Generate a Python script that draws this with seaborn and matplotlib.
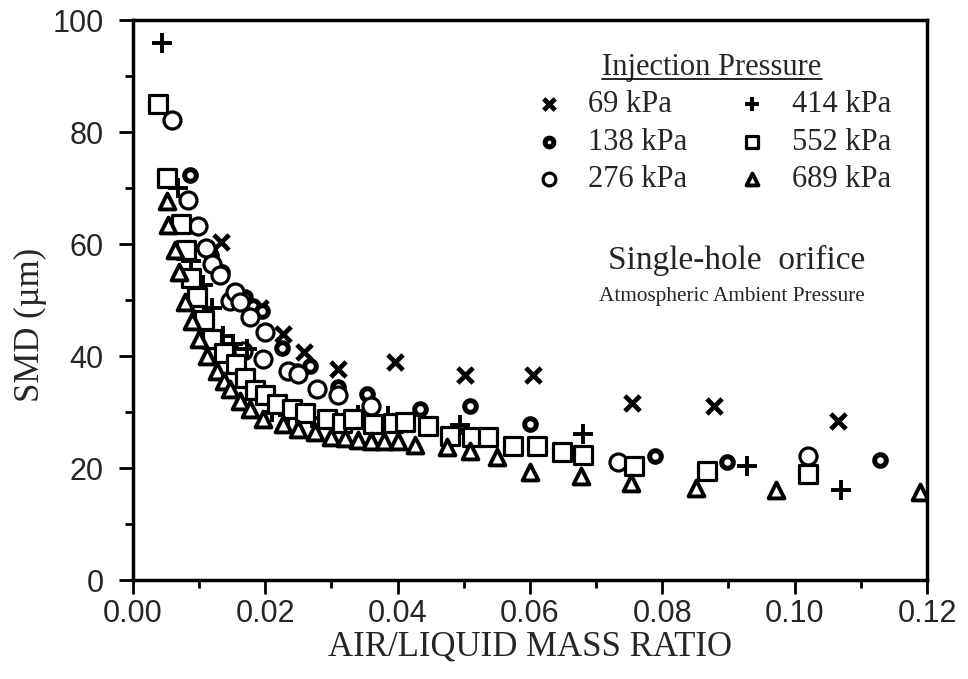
import matplotlib
matplotlib.use("Agg")
import matplotlib.pyplot as plt
import seaborn as sns
import pandas as pd
from matplotlib.ticker import MultipleLocator, FormatStrFormatter
from matplotlib.lines import Line2D

# ---- data ----
labels = ["69 kPa", "138 kPa", "276 kPa", "414 kPa", "552 kPa", "689 kPa"]

x69 = [0.0133, 0.0192, 0.0227, 0.0258, 0.0310, 0.0396, 0.0502, 0.0605, 0.0754, 0.0878, 0.1065]
y69 = [60.3, 48.5, 44.0, 40.8, 37.7, 39.0, 36.6, 36.6, 31.6, 31.1, 28.4]

x138 = [0.0086, 0.0118, 0.0135, 0.0170, 0.0181, 0.0195, 0.0225, 0.0248, 0.0268, 0.0310,
        0.0354, 0.0434, 0.0509, 0.0600, 0.0789, 0.0898, 0.1129]
y138 = [72.4, 58.0, 55.0, 50.5, 49.0, 48.0, 41.5, 37.3, 38.2, 34.5,
        33.2, 30.5, 31.1, 27.8, 22.1, 21.0, 21.4]

x276 = [0.0059, 0.0083, 0.0098, 0.0110, 0.0119, 0.0131, 0.0147, 0.0154, 0.0162, 0.0177,
        0.0166, 0.0200, 0.0196, 0.0234, 0.0249, 0.0278, 0.0310, 0.0360, 0.0733, 0.1020]
y276 = [82.2, 67.9, 63.2, 59.2, 56.5, 54.4, 49.9, 51.5, 49.7, 47.0,
        40.9, 44.3, 39.5, 37.3, 36.8, 34.1, 33.0, 31.0, 21.0, 22.1]

x414 = [0.0044, 0.0068, 0.0088, 0.0106, 0.0120, 0.0136, 0.0151, 0.0172, 0.0190, 0.0210,
        0.0235, 0.0270, 0.0300, 0.0340, 0.0385, 0.0494, 0.0680, 0.0928, 0.1070]
y414 = [95.9, 70.0, 57.0, 52.6, 48.5, 43.5, 42.2, 41.3, 33.0, 30.0,
        29.5, 29.0, 28.5, 29.5, 29.3, 27.7, 26.0, 20.3, 16.0]

x552 = [0.0038, 0.0051, 0.0072, 0.0080, 0.0088, 0.0097, 0.0108, 0.0120, 0.0138, 0.0155,
        0.0170, 0.0185, 0.0200, 0.0218, 0.0240, 0.0260, 0.0293, 0.0316, 0.0333, 0.0363,
        0.0393, 0.0411, 0.0446, 0.0479, 0.0512, 0.0537, 0.0574, 0.0611, 0.0648, 0.0680,
        0.0757, 0.0867, 0.1020]
y552 = [85.0, 71.8, 63.5, 59.0, 54.0, 50.5, 46.5, 43.0, 40.5, 38.5,
        36.0, 34.0, 33.0, 31.5, 30.5, 29.8, 28.7, 28.0, 28.7, 27.8,
        28.0, 28.2, 27.5, 25.7, 25.5, 25.5, 23.9, 24.0, 22.8, 22.4,
        20.3, 19.4, 18.9]

x689 = [0.0051, 0.0053, 0.0063, 0.0070, 0.0079, 0.0089, 0.0100, 0.0112, 0.0127, 0.0137,
        0.0147, 0.0162, 0.0177, 0.0197, 0.0227, 0.0250, 0.0275, 0.0300, 0.0320, 0.0340,
        0.0360, 0.0380, 0.0400, 0.0426, 0.0474, 0.0509, 0.0550, 0.0600, 0.0677, 0.0753,
        0.0851, 0.0972, 0.1189]
y689 = [67.7, 63.4, 58.9, 55.0, 49.7, 46.3, 43.0, 40.0, 37.3, 35.5,
        34.1, 32.0, 30.5, 28.7, 27.8, 27.0, 26.5, 25.5, 25.3, 25.0,
        24.8, 24.8, 24.8, 24.1, 23.7, 23.0, 21.9, 19.2, 18.5, 17.4,
        16.5, 16.0, 15.8]

xticks = [0.00, 0.02, 0.04, 0.06, 0.08, 0.10, 0.12]
yticks = [0, 20, 40, 60, 80, 100]

series = [(x69, y69), (x138, y138), (x276, y276), (x414, y414), (x552, y552), (x689, y689)]

# ---- style ----
sns.set_theme(style="ticks")
plt.rcParams["font.family"] = ["Liberation Serif", "DejaVu Serif"]

fig = plt.figure(figsize=(9.68, 6.79), dpi=100)
ax = fig.add_axes([0.1374, 0.1458, 0.8202, 0.8247])

styles = [
    dict(marker="x", s=120, color="black", linewidths=3.4),
    dict(marker="o", s=70, facecolor="white", edgecolor="black", linewidth=3.6),
    dict(marker="o", s=150, facecolor="white", edgecolor="black", linewidth=2.3),
    dict(marker="+", s=200, color="black", linewidths=2.8),
    dict(marker="s", s=150, facecolor="white", edgecolor="black", linewidth=2.3),
    dict(marker="^", s=130, facecolor="white", edgecolor="black", linewidth=2.8),
]

for (xs, ys), lab, st in zip(series, labels, styles):
    df = pd.DataFrame({"ratio": xs, "smd": ys})
    sns.scatterplot(data=df, x="ratio", y="smd", ax=ax, label=lab, zorder=3, **st)

ax.set_xlim(0, 0.12)
ax.set_ylim(0, 100)
ax.set_xticks(xticks)
ax.set_yticks(yticks)
ax.xaxis.set_minor_locator(MultipleLocator(0.01))
ax.yaxis.set_minor_locator(MultipleLocator(10))
ax.xaxis.set_major_formatter(FormatStrFormatter("%.2f"))

for lbl in ax.get_xticklabels() + ax.get_yticklabels():
    lbl.set_fontfamily("Liberation Sans")
    lbl.set_fontsize(22)
ax.tick_params(axis="both", which="major", direction="out", length=10, width=2, color="black")
ax.tick_params(axis="both", which="minor", direction="out", length=6, width=2, color="black")
ax.tick_params(axis="x", which="major", pad=4)
ax.tick_params(axis="y", which="major", pad=11)

for sp in ax.spines.values():
    sp.set_visible(True)
    sp.set_linewidth(2.5)
    sp.set_color("black")

ax.set_xlabel("AIR/LIQUID MASS RATIO", fontsize=25, labelpad=1)
ax.set_ylabel("SMD (µm)", fontsize=25)
ax.yaxis.set_label_coords(-0.108, 0.455)

leg = ax.legend(
    ncol=2, loc="upper right", bbox_to_anchor=(0.966, 0.958), frameon=False,
    title="Injection Pressure",
    fontsize=22, title_fontsize=22, markerscale=0.75,
    handlelength=1.0, handletextpad=0.8, columnspacing=1.6,
    labelspacing=0.28, borderaxespad=0.0, borderpad=0.3,
)

ax.text(0.922, 0.571, "Single-hole  orifice", transform=ax.transAxes,
        ha="right", va="center", fontsize=24)
ax.text(0.922, 0.507, "Atmospheric Ambient Pressure", transform=ax.transAxes,
        ha="right", va="center", fontsize=15.3)

# underline the legend title
fig.canvas.draw()
tb = leg.get_title().get_window_extent(fig.canvas.get_renderer())
inv = fig.transFigure.inverted()
(x0, y0), (x1, _) = inv.transform([(tb.x0, tb.y0 + 3), (tb.x1, tb.y0 + 3)])
fig.add_artist(Line2D([x0, x1], [y0, y0], transform=fig.transFigure, color="black", lw=1.2))

fig.savefig("out.png", dpi=100)
